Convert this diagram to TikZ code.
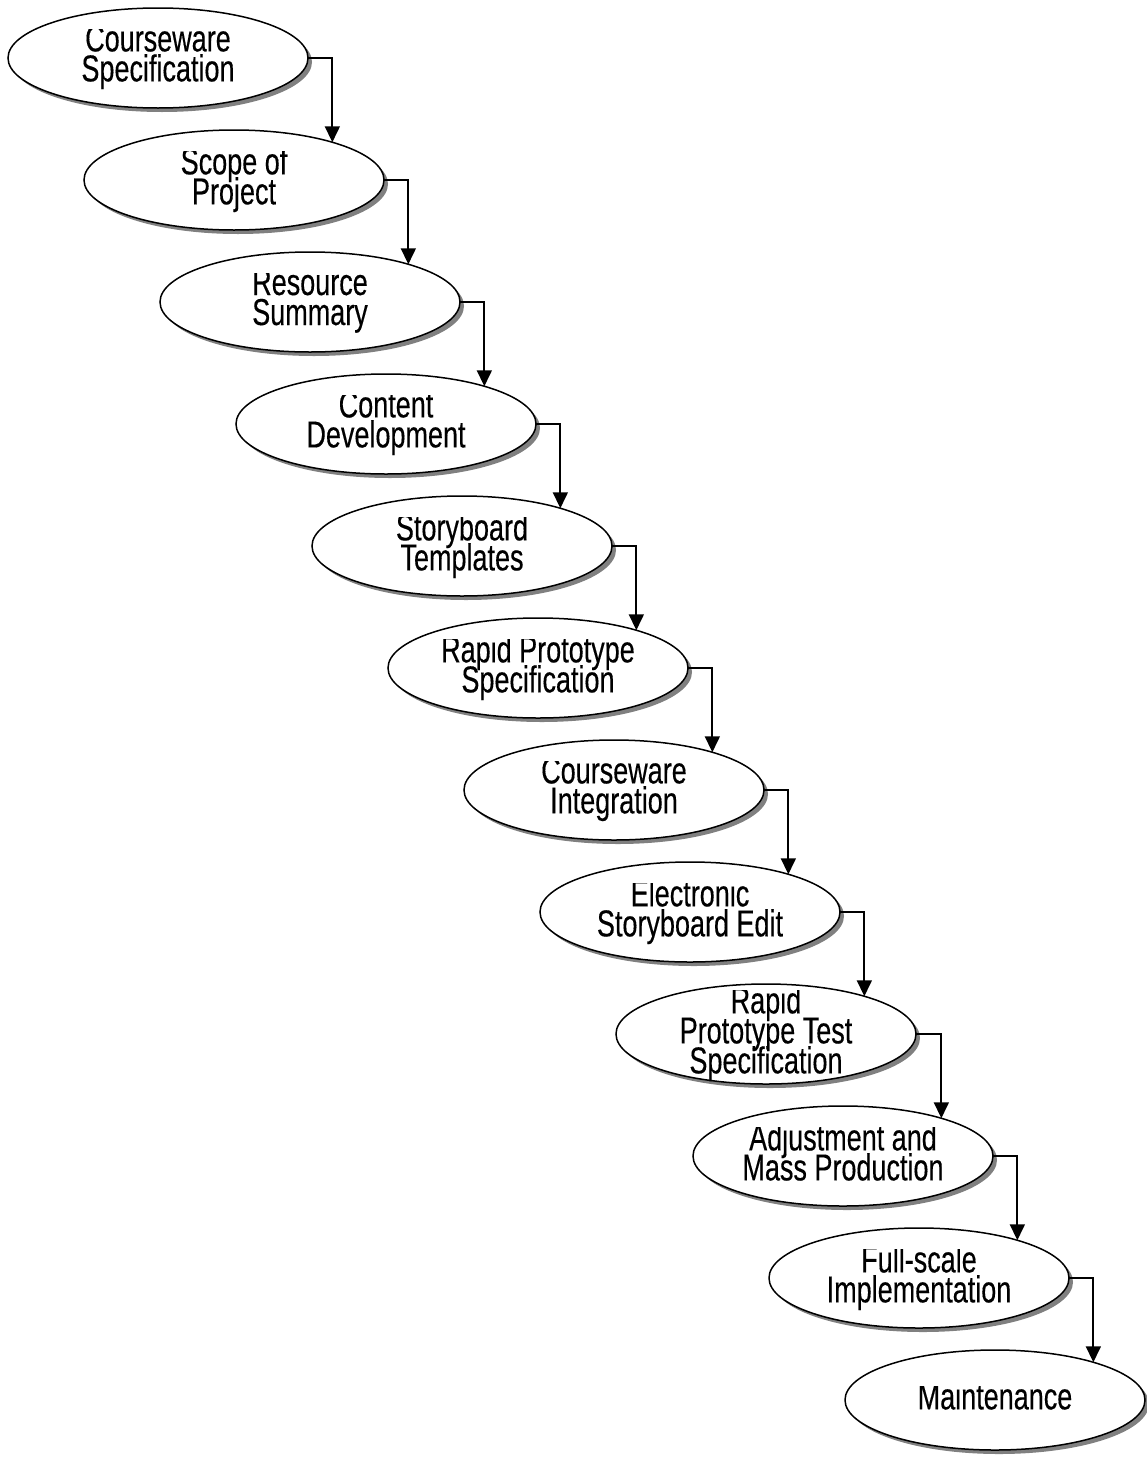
\documentclass[tikz,border=0pt]{standalone}
\usepackage{fontspec}
\setmainfont{Liberation Sans}[FakeStretch=0.72,FakeBold=0.3]
\usetikzlibrary{arrows.meta,shapes.geometric,shadows}

% tight, fixed line spacing inside the stage labels
\setlength{\lineskiplimit}{-100pt}

\tikzset{
  stageshape/.style={ellipse, draw=black, line width=1.5pt, fill=white,
    minimum width=300pt, minimum height=100pt, inner sep=0pt, outer sep=0pt,
    drop shadow={shadow xshift=4pt, shadow yshift=-4pt, fill=gray, opacity=1}},
  stagetext/.style={align=center, inner sep=0pt, anchor=north,
    font=\fontsize{37.5}{30}\selectfont},
  flow/.style={line width=1.8pt, -{Triangle[length=16pt,width=15pt]}}
}

% \stage{name}{centre x}{centre y, counted downwards}{number of lines}{label}
\newcommand\stage[5]{%
  \node[stageshape] (#1) at (#2,-#3) {};
  \pgfmathsetmacro\firstbase{#3-4.5-(30*(#4-1)-27)/2}%
  \begin{scope}
    \clip (#2-150,-\firstbase+23) rectangle (#2+150,-#3-60);
    \node[stagetext] (#1-label) at (#2,-\firstbase+27) {#5};
  \end{scope}}

\begin{document}
\begin{tikzpicture}[x=1pt,y=1pt]
  \fill[white] (0,0) rectangle (1147,-1459);
  \useasboundingbox (0,0) rectangle (1147,-1459);

  \stage{s1}{158}{58}{2}{Courseware\\Specification}
  \stage{s2}{234}{180}{2}{Scope of\\Project}
  \stage{s3}{310}{302}{2}{Resource\\Summary}
  \stage{s4}{386}{424}{2}{Content\\Development}
  \stage{s5}{462}{546}{2}{Storyboard\\Templates}
  \stage{s6}{538}{668}{2}{Rapid Prototype\\Specification}
  \stage{s7}{614}{790}{2}{Courseware\\Integration}
  \stage{s8}{690}{912}{2}{Electronic\\Storyboard Edit}
  \stage{s9}{766}{1034}{3}{Rapid\\Prototype Test\\Specification}
  \stage{s10}{843}{1156}{2}{Adjustment and\\Mass Production}
  \stage{s11}{919}{1278}{2}{Full-scale\\Implementation}
  \stage{s12}{995}{1400}{1}{Maintenance}

  \foreach \a/\b in {s1/s2, s2/s3, s3/s4, s4/s5, s5/s6, s6/s7,
                     s7/s8, s8/s9, s9/s10, s10/s11, s11/s12}
    \draw[flow] (\a.east) -| (\b.21);
\end{tikzpicture}
\end{document}
